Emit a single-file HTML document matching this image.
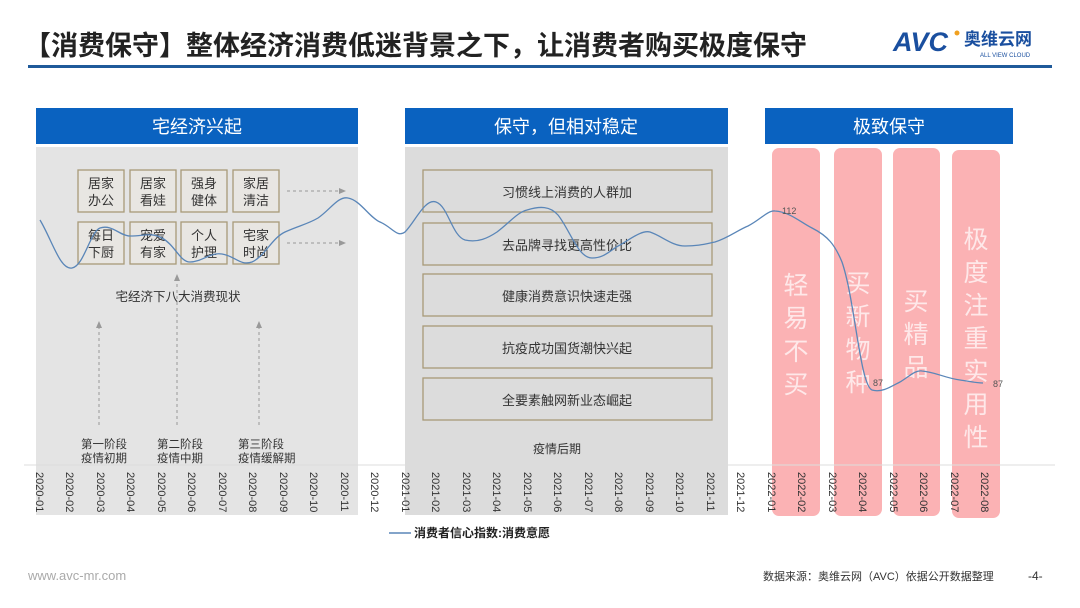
<!DOCTYPE html>
<html><head><meta charset="utf-8"><style>
html,body{margin:0;padding:0;background:#fff;}
svg{display:block;font-family:"Liberation Sans","Noto Sans CJK SC",sans-serif;}
</style></head><body>
<svg width="1080" height="608" viewBox="0 0 1080 608" xmlns="http://www.w3.org/2000/svg">
<defs><marker id="ar" markerWidth="8" markerHeight="8" refX="6" refY="4" orient="auto"><path d="M0,1 L7,4 L0,7 z" fill="#999"/></marker></defs>
<rect width="1080" height="608" fill="#fff"/>
<text x="24" y="55" font-size="27" font-weight="bold" fill="#222">【消费保守】整体经济消费低迷背景之下，让消费者购买极度保守</text>
<rect x="28" y="65" width="1024" height="3" fill="#1f5a9a"/>
<text x="893" y="51" font-size="27" font-weight="bold" font-style="italic" fill="#1a4f9f">AVC</text>
<circle cx="957" cy="33" r="2.5" fill="#f0a020"/>
<text x="964" y="45" font-size="17" font-weight="bold" fill="#1a4f9f">奥维云网</text>
<text x="980" y="57" font-size="6" fill="#1a4f9f">ALL VIEW CLOUD</text>

<rect x="36" y="147" width="322" height="368" fill="#e4e4e4"/>
<rect x="405" y="147" width="323" height="368" fill="#dcdcdc"/>
<rect x="36" y="108" width="322" height="36" fill="#0a62c0"/>
<rect x="405" y="108" width="323" height="36" fill="#0a62c0"/>
<rect x="765" y="108" width="248" height="36" fill="#0a62c0"/>
<g font-size="18" fill="#fff" text-anchor="middle">
<text x="197" y="133">宅经济兴起</text><text x="566" y="133">保守，但相对稳定</text><text x="889" y="133">极致保守</text></g>

<g fill="#fbb2b4"><rect x="772" y="148" width="48" height="368" rx="7"/><rect x="834" y="148" width="48" height="368" rx="7"/><rect x="893" y="148" width="47" height="368" rx="7"/><rect x="952" y="150" width="48" height="368" rx="7"/></g>

<line x1="24" y1="465" x2="1055" y2="465" stroke="#ddd"/>

<g fill="#e8e6e2" stroke="#a89a78" stroke-width="1.3">
<rect x="78" y="170" width="46" height="42"/><rect x="130" y="170" width="46" height="42"/><rect x="181" y="170" width="46" height="42"/><rect x="233" y="170" width="46" height="42"/>
<rect x="78" y="222" width="46" height="42"/><rect x="130" y="222" width="46" height="42"/><rect x="181" y="222" width="46" height="42"/><rect x="233" y="222" width="46" height="42"/></g>
<g font-size="13" fill="#333" text-anchor="middle">
<text x="101" y="188">居家</text><text x="101" y="205">办公</text>
<text x="153" y="188">居家</text><text x="153" y="205">看娃</text>
<text x="204" y="188">强身</text><text x="204" y="205">健体</text>
<text x="256" y="188">家居</text><text x="256" y="205">清洁</text>
<text x="101" y="240">每日</text><text x="101" y="257">下厨</text>
<text x="153" y="240">宠爱</text><text x="153" y="257">有家</text>
<text x="204" y="240">个人</text><text x="204" y="257">护理</text>
<text x="256" y="240">宅家</text><text x="256" y="257">时尚</text>
<text x="178" y="301" font-size="12.5">宅经济下八大消费现状</text>
</g>
<g stroke="#999" stroke-dasharray="3,3" fill="none" marker-end="url(#ar)">
<line x1="287" y1="191" x2="345" y2="191"/><line x1="287" y1="243" x2="345" y2="243"/>
<line x1="99" y1="425" x2="99" y2="322"/><line x1="177" y1="425" x2="177" y2="275"/><line x1="259" y1="425" x2="259" y2="322"/></g>
<g font-size="11.5" fill="#333">
<text x="81" y="448">第一阶段</text><text x="81" y="462">疫情初期</text>
<text x="157" y="448">第二阶段</text><text x="157" y="462">疫情中期</text>
<text x="238" y="448">第三阶段</text><text x="238" y="462">疫情缓解期</text></g>

<g fill="#dcdcdc" stroke="#a89a78" stroke-width="1.3">
<rect x="423" y="170" width="289" height="42"/><rect x="423" y="223" width="289" height="42"/><rect x="423" y="274" width="289" height="42"/><rect x="423" y="326" width="289" height="42"/><rect x="423" y="378" width="289" height="42"/></g>
<g font-size="13" fill="#333" text-anchor="middle">
<text x="567" y="197">习惯线上消费的人群加</text><text x="567" y="250">去品牌寻找更高性价比</text><text x="567" y="301">健康消费意识快速走强</text><text x="567" y="353">抗疫成功国货潮快兴起</text><text x="567" y="405">全要素触网新业态崛起</text>
<text x="557" y="453" font-size="12">疫情后期</text></g>

<g font-size="25" fill="#fff" fill-opacity="0.7" text-anchor="middle">
<text x="796" y="294">轻</text><text x="796" y="327">易</text><text x="796" y="360">不</text><text x="796" y="393">买</text>
<text x="858" y="292">买</text><text x="858" y="325">新</text><text x="858" y="358">物</text><text x="858" y="391">种</text>
<text x="916" y="310">买</text><text x="916" y="343">精</text><text x="916" y="376">品</text>
<text x="976" y="248">极</text><text x="976" y="281">度</text><text x="976" y="314">注</text><text x="976" y="347">重</text><text x="976" y="380">实</text><text x="976" y="413">用</text><text x="976" y="446">性</text></g>

<path d="M40,220 C52,240 60,270 72,268 C84,266 90,232 100,228 C112,224 120,236 130,236 C145,236 150,232 162,238 C175,245 180,262 190,262 C202,262 210,252 222,254 C235,256 240,266 252,262 C265,256 272,238 285,232 C298,226 308,224 318,218 C330,210 338,196 348,198 C360,200 370,218 380,222 C392,227 397,238 405,232 C415,222 425,198 436,202 C448,206 452,236 465,240 C478,243 488,238 497,232 C510,222 518,212 527,210 C540,206 550,206 558,215 C570,230 578,258 592,258 C605,258 610,250 620,245 C632,238 642,230 650,232 C662,236 672,246 685,246 C698,246 705,244 715,242 C728,238 738,230 748,226 C760,220 768,210 775,211 C790,212 800,222 812,228 C828,236 835,245 842,262 C855,300 860,385 872,390 C882,393 892,386 900,382 C910,376 915,370 922,371 C935,372 945,378 960,380 C968,381 975,383 983,383" fill="none" stroke="#5a86b8" stroke-width="1.3"/>
<g font-size="9" fill="#555"><text x="782" y="214">112</text><text x="873" y="386">87</text><text x="993" y="387">87</text></g>

<line x1="389" y1="533" x2="411" y2="533" stroke="#5a86b8" stroke-width="1.5"/>
<text x="414" y="537" font-size="12" font-weight="bold" fill="#222">消费者信心指数:消费意愿</text>
<text x="28" y="580" font-size="13" fill="#aaa">www.avc-mr.com</text>
<text x="763" y="580" font-size="11" fill="#333">数据来源：奥维云网（AVC）依据公开数据整理</text>
<text x="1028" y="580" font-size="12" fill="#333">-4-</text>

<g font-size="11" fill="#333">
<text transform="translate(36,472) rotate(90)">2020-01</text><text transform="translate(66,472) rotate(90)">2020-02</text><text transform="translate(97,472) rotate(90)">2020-03</text><text transform="translate(127,472) rotate(90)">2020-04</text><text transform="translate(158,472) rotate(90)">2020-05</text><text transform="translate(188,472) rotate(90)">2020-06</text><text transform="translate(219,472) rotate(90)">2020-07</text><text transform="translate(249,472) rotate(90)">2020-08</text><text transform="translate(280,472) rotate(90)">2020-09</text><text transform="translate(310,472) rotate(90)">2020-10</text><text transform="translate(341,472) rotate(90)">2020-11</text><text transform="translate(371,472) rotate(90)">2020-12</text><text transform="translate(402,472) rotate(90)">2021-01</text><text transform="translate(432,472) rotate(90)">2021-02</text><text transform="translate(463,472) rotate(90)">2021-03</text><text transform="translate(493,472) rotate(90)">2021-04</text><text transform="translate(524,472) rotate(90)">2021-05</text><text transform="translate(554,472) rotate(90)">2021-06</text><text transform="translate(585,472) rotate(90)">2021-07</text><text transform="translate(615,472) rotate(90)">2021-08</text><text transform="translate(646,472) rotate(90)">2021-09</text><text transform="translate(676,472) rotate(90)">2021-10</text><text transform="translate(707,472) rotate(90)">2021-11</text><text transform="translate(737,472) rotate(90)">2021-12</text><text transform="translate(768,472) rotate(90)">2022-01</text><text transform="translate(798,472) rotate(90)">2022-02</text><text transform="translate(829,472) rotate(90)">2022-03</text><text transform="translate(859,472) rotate(90)">2022-04</text><text transform="translate(890,472) rotate(90)">2022-05</text><text transform="translate(920,472) rotate(90)">2022-06</text><text transform="translate(951,472) rotate(90)">2022-07</text><text transform="translate(981,472) rotate(90)">2022-08</text>
</g>
</svg>
</body></html>
